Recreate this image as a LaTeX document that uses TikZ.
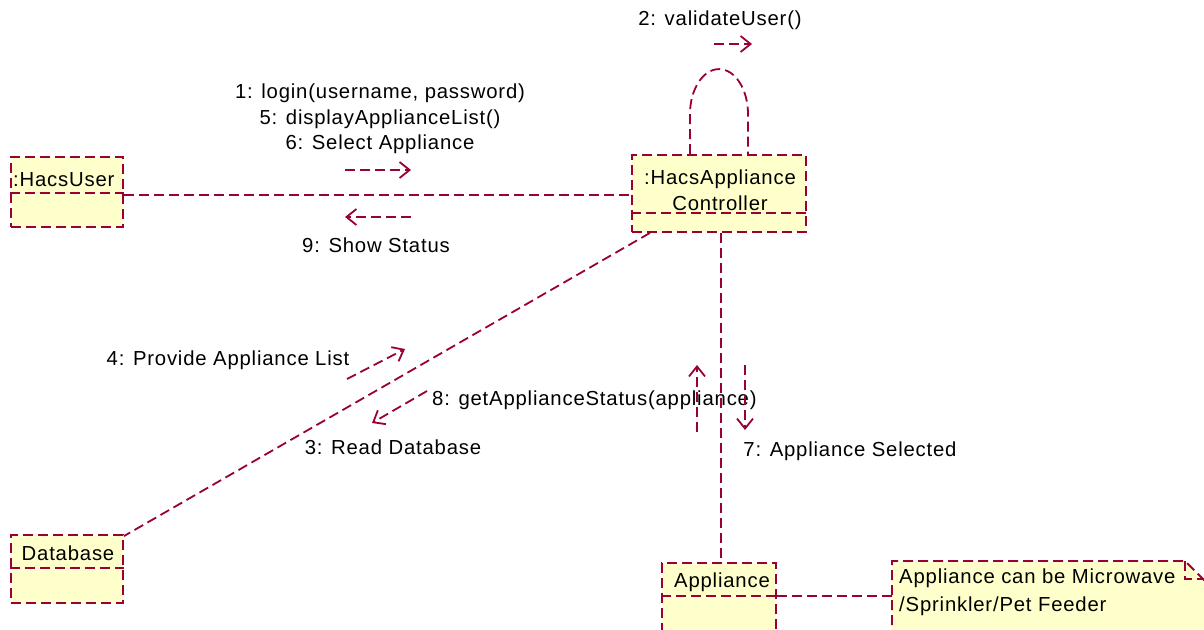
\documentclass[tikz,border=0pt]{standalone}
\usepackage{fontspec}
\setmainfont{Liberation Sans}[LetterSpace=4]
\usetikzlibrary{arrows.meta}
\definecolor{umlred}{RGB}{153,0,51}
\definecolor{umlfill}{RGB}{255,255,204}
\tikzset{
  umlline/.style={draw=umlred, line width=1.8pt, dash pattern=on 10pt off 5pt},
  objbox/.style={rectangle, umlline, fill=umlfill, inner sep=0pt},
  msg/.style={umlline, -{Straight Barb[length=10pt,width=16pt,line width=1.8pt]}},
  txt/.style={inner sep=0pt, text=black, font=\fontsize{20.3}{25.5}\selectfont},
}
\begin{document}
\begin{tikzpicture}[x=1pt,y=-1pt]
\clip (0,0) rectangle (1204,629);
\path[use as bounding box] (0,0) rectangle (1204,629);
\fill[white] (0,0) rectangle (1204,629);

% object boxes
\node[objbox, minimum width=112pt, minimum height=70pt] (user) at (67,192) {};
\node[objbox, minimum width=174pt, minimum height=77pt] (ctrl) at (719,193.5) {};
\node[objbox, minimum width=112pt, minimum height=68pt] (db) at (67,569) {};
\node[objbox, minimum width=114pt, minimum height=87pt] (app) at (719,606.5) {};

% note
\coordinate (notew) at (892,596);
\draw[umlline, fill=umlfill] (892,640) -- (892,561) -- (1185,561) -- (1210,586) -- (1210,640);
\draw[umlline] (1185,561) -- (1185,579) -- (1210,579);
\node[txt, anchor=west, align=left, font=\fontsize{20.3}{28}\selectfont] (notetxt) at (899,592) {Appliance can be Microwave\\/Sprinkler/Pet Feeder};

% separators
\draw[umlline] (user.west |- 0,193) -- (user.east |- 0,193);
\draw[umlline] (ctrl.west |- 0,213) -- (ctrl.east |- 0,213);
\draw[umlline] (db.west |- 0,568) -- (db.east |- 0,568);
\draw[umlline] (app.west |- 0,596) -- (app.east |- 0,596);

% object names
\node[txt, anchor=west] (usertxt) at (13,180) {:HacsUser};
\node[txt, align=center] (ctrltxt) at (720,190) {:HacsAppliance\\Controller};
\node[txt] (dbtxt) at (68,553) {Database};
\node[txt] (apptxt) at (722,582) {Appliance};

% links
\draw[umlline] ([yshift=-3pt]user.east) -- ([yshift=-3pt]ctrl.west |- user.east);
\draw[umlline] ([xshift=-69pt]ctrl.south) -- ([yshift=-2pt]db.north east);
\draw[umlline] ([xshift=2pt]ctrl.south) -- ([xshift=2pt]app.north);
\draw[umlline] (app.east |- notew) -- (notew);
\draw[umlline] ([xshift=-29pt]ctrl.north) -- ++(0,-40) arc[start angle=180, end angle=0, x radius=29pt, y radius=45pt] -- ([xshift=29pt]ctrl.north);

% messages
\coordinate (m2a) at (714,44); \coordinate (m2b) at (752,44);
\draw[msg] (m2a) -- (m2b);
\node[txt] (l2) at (720,20) {2: validateUser()};

\coordinate (m1a) at (345,170); \coordinate (m1b) at (411,170);
\draw[msg] (m1a) -- (m1b);
\node[txt, align=center] (l1) at (380,119) {1: login(username, password)\\5: displayApplianceList()\\6: Select Appliance};

\coordinate (m9a) at (411,217); \coordinate (m9b) at (345,217);
\draw[msg] (m9a) -- (m9b);
\node[txt] (l9) at (376,245) {9: Show Status};

\coordinate (m4a) at (347,379); \coordinate (m4b) at (405,349);
\draw[msg] (m4a) -- (m4b);
\node[txt] (l4) at (228,360) {4: Provide Appliance List};

\coordinate (m3a) at (427,391); \coordinate (m3b) at (372,423);
\draw[msg] (m3a) -- (m3b);
\node[txt, anchor=west] (l8) at (432,400) {8: getApplianceStatus(appliance)};
\node[txt] (l3) at (393,447) {3: Read Database};

\coordinate (m8a) at (697,432); \coordinate (m8b) at (697,365);
\draw[msg] (m8a) -- (m8b);
\coordinate (m7a) at (745,365); \coordinate (m7b) at (745,430);
\draw[msg] (m7a) -- (m7b);
\node[txt] (l7) at (850,451) {7: Appliance Selected};
\end{tikzpicture}
\end{document}
